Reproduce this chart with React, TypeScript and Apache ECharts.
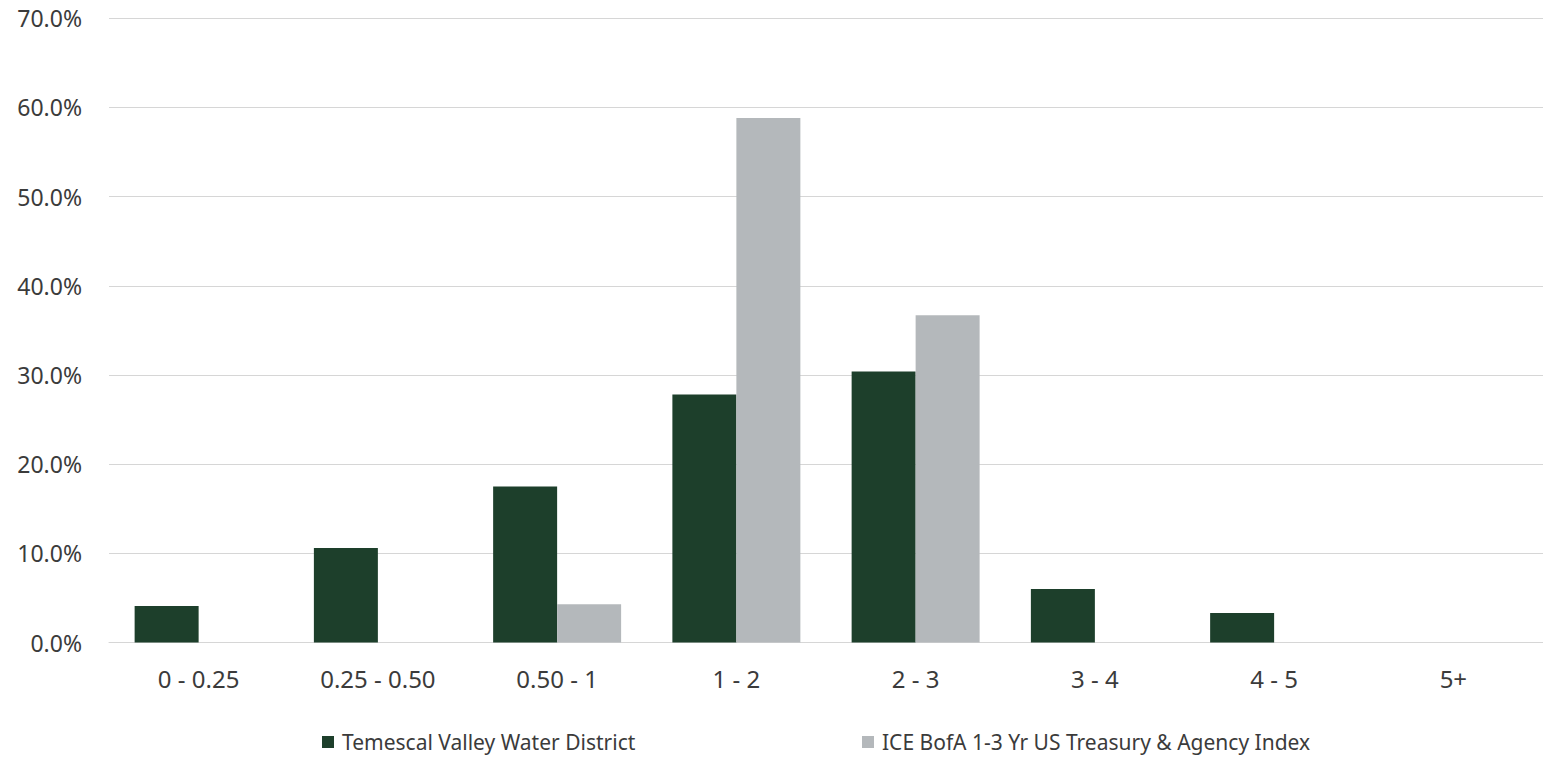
import React, { useEffect, useRef } from "react";
import * as echarts from "echarts";

// Maturity buckets (years)
const categories = ["0 - 0.25", "0.25 - 0.50", "0.50 - 1", "1 - 2", "2 - 3", "3 - 4", "4 - 5", "5+"];

// Share of portfolio in each bucket, percent
const districtValues = [4.1, 10.6, 17.5, 27.8, 30.4, 6.0, 3.3, 0];
const indexValues = [0, 0, 4.3, 58.8, 36.7, 0, 0, 0];

const yTicks = { min: 0, max: 70, interval: 10 };

const districtName = "Temescal Valley Water District";
const indexName = "ICE BofA 1-3 Yr US Treasury & Agency Index";

const DARK = "#1d3f2b";
const GRAY = "#b4b8bb";
const TEXT = "#3b3b3b";
const GRID = "#d6d6d6";
const FONT = "'Noto Sans', 'Open Sans', sans-serif";

const legendBase = {
  top: 731,
  padding: 0,
  itemWidth: 12,
  itemHeight: 12,
  itemGap: 0,
  icon: "rect",
  textStyle: {
    fontSize: 21,
    lineHeight: 22,
    height: 22,
    color: TEXT,
    fontFamily: FONT,
    padding: [0, 0, 0, 3],
  },
};

export default function App() {
  const ref = useRef<HTMLDivElement>(null);

  useEffect(() => {
    if (!ref.current) return;
    const chart = echarts.init(ref.current, undefined, { renderer: "svg" });
    chart.setOption({
      animation: false,
      backgroundColor: "#ffffff",
      textStyle: { fontFamily: FONT },
      grid: { left: 109, top: 18.2, width: 1446.4, height: 624.3, containLabel: false },
      legend: [
        { ...legendBase, data: [districtName], left: 322 },
        { ...legendBase, data: [indexName], left: 862 },
      ],
      xAxis: {
        type: "category",
        data: categories,
        axisLine: { show: true, lineStyle: { color: GRID, width: 1 } },
        axisTick: { show: false },
        axisLabel: { fontSize: 24, color: TEXT, margin: 24, fontFamily: FONT },
      },
      yAxis: {
        type: "value",
        min: yTicks.min,
        max: yTicks.max,
        interval: yTicks.interval,
        axisLine: { show: false },
        axisTick: { show: false },
        splitLine: { lineStyle: { color: GRID, width: 1 } },
        axisLabel: {
          fontSize: 23,
          color: TEXT,
          margin: 27,
          fontFamily: FONT,
          formatter: (v: number) => `${v.toFixed(1)}%`,
        },
      },
      series: [
        {
          name: districtName,
          type: "bar",
          data: districtValues,
          barWidth: "35.7%",
          barGap: "0%",
          itemStyle: { color: DARK },
        },
        {
          name: indexName,
          type: "bar",
          data: indexValues,
          barWidth: "35.7%",
          barGap: "0%",
          itemStyle: { color: GRAY },
        },
      ],
    });
    return () => chart.dispose();
  }, []);

  return (
    <div
      ref={ref}
      style={{ position: "fixed", left: 0, top: 0, width: 1543, height: 758, background: "#fff" }}
    />
  );
}
